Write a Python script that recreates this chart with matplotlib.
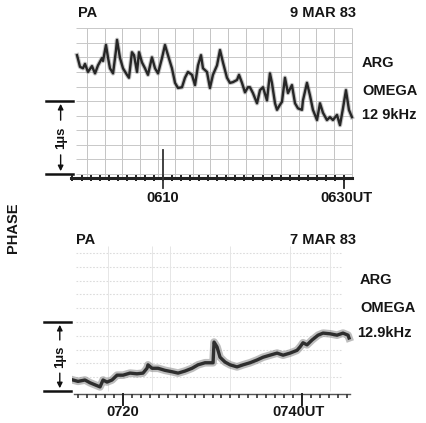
import numpy as np
import matplotlib
matplotlib.use("Agg")
from matplotlib import pyplot as plt
from matplotlib import transforms

# 9 MAR 83: minutes after 0600 UT, phase in microseconds
t_top = [0.50, 0.83, 1.16, 1.38, 1.71, 2.15, 2.49, 2.82, 3.26, 3.37, 3.70, 3.92, 4.14, 4.48,
         4.81, 4.92, 5.25, 5.58, 6.02, 6.24, 6.57, 6.80, 7.13, 7.35, 7.68, 8.01, 8.34, 8.78,
         9.12, 9.45, 9.89, 10.22, 10.55, 10.99, 11.33, 11.66, 12.10, 12.43, 12.76, 13.20,
         13.54, 13.87, 14.20, 14.42, 14.86, 15.19, 15.52, 15.97, 16.30, 16.63, 17.07, 17.40,
         17.73, 18.18, 18.40, 18.73, 19.06, 19.39, 19.61, 19.94, 20.39, 20.72, 21.05, 21.49,
         21.82, 22.04, 22.38, 22.60, 22.93, 23.15, 23.48, 23.81, 24.25, 24.59, 24.92, 25.36,
         25.47, 25.91, 26.24, 26.57, 27.02, 27.35, 27.68, 28.12, 28.45, 28.78, 29.23, 29.56,
         29.89, 30.22, 30.55, 30.88]
p_top = [1.63, 1.47, 1.45, 1.51, 1.40, 1.48, 1.38, 1.49, 1.59, 1.55, 1.77, 1.60, 1.45, 1.38,
         1.70, 1.84, 1.59, 1.45, 1.36, 1.32, 1.67, 1.63, 1.40, 1.67, 1.53, 1.45, 1.36, 1.60,
         1.45, 1.38, 1.59, 1.77, 1.63, 1.45, 1.25, 1.18, 1.19, 1.32, 1.40, 1.36,
         1.22, 1.49, 1.63, 1.45, 1.40, 1.18, 1.36, 1.49, 1.70, 1.53, 1.32, 1.25,
         1.26, 1.29, 1.36, 1.25, 1.12, 1.19, 1.19, 1.11, 0.97, 1.15, 1.19, 1.01,
         1.38, 1.25, 0.97, 0.88, 0.95, 0.99, 1.32, 1.11, 1.22, 0.97, 0.90, 0.88,
         1.01, 1.25, 1.08, 0.88, 0.74, 0.97, 0.84, 0.74, 0.78, 0.74, 0.81, 0.67,
         0.90, 1.15, 0.88, 0.78]

# 7 MAR 83: minutes after 0700 UT, phase in microseconds
t_bot = [14.41, 14.97, 15.75, 16.31, 16.87, 17.43, 17.77, 18.21, 18.77, 19.33, 20.00, 20.78,
         21.56, 22.23, 22.68, 22.79, 23.24, 23.91, 24.69, 25.47, 26.15, 26.93, 27.71, 28.38,
         29.16, 29.72, 30.06, 30.17, 30.50, 30.84, 31.40, 31.96, 32.74, 33.41, 34.19, 34.97,
         35.64, 36.42, 37.21, 37.88, 38.66, 39.44, 39.78, 40.11, 40.56, 41.12, 41.79, 42.35,
         43.13, 43.91, 44.58, 45.14, 45.25]
p_bot = [0.16, 0.14, 0.16, 0.12, 0.09, 0.06, 0.16, 0.13, 0.16, 0.23, 0.23, 0.26,
         0.25, 0.26, 0.33, 0.38, 0.33, 0.33, 0.30, 0.28, 0.26, 0.29, 0.33, 0.38,
         0.41, 0.41, 0.41, 0.71, 0.64, 0.49, 0.42, 0.38, 0.35, 0.38, 0.41, 0.45,
         0.49, 0.52, 0.55, 0.52, 0.55, 0.59, 0.64, 0.70, 0.67, 0.74, 0.81, 0.84,
         0.83, 0.81, 0.84, 0.81, 0.77]

top_labels = ["PA", "9 MAR 83", "ARG", "OMEGA", "12 9kHz", "0610", "0630UT"]
bot_labels = ["PA", "7 MAR 83", "ARG", "OMEGA", "12.9kHz", "0720", "0740UT"]
top_marks = [10, 30]
bot_marks = [20, 40]

W, H = 427, 423
plt.rcParams['font.family'] = ['Liberation Sans', 'DejaVu Sans']
fig = plt.figure(figsize=(W / 100, H / 100), dpi=100)


def rect(l, t, r, b):
    return [l / W, 1 - b / H, (r - l) / W, (b - t) / H]


def ftext(x, y, s, **kw):
    kw.setdefault('fontsize', 10.5)
    kw.setdefault('color', '#151515')
    kw.setdefault('fontweight', 'bold')
    fig.text(x / W, 1 - y / H, s, **kw)


ax1 = fig.add_axes(rect(72, 26, 356, 182))
ax1.set_xlim(-0.055, 31.33)
ax1.set_ylim(-0.11, 2.03)

ax2 = fig.add_axes(rect(72, 240, 356, 400))
ax2.set_xlim(14.30, 46.03)
ax2.set_ylim(-0.13, 2.19)

for ax in (ax1, ax2):
    ax.axis('off')

# chart paper grid, top record
ax1.vlines(np.arange(1.6, 31, 1.95), -0.05, 2.0, color='#c4c4c4', lw=0.7, zorder=1)
ax1.hlines(np.arange(0.0, 2.01, 0.2), 0.4, 30.9, color='#c8c8c8', lw=0.7, zorder=1)

# faint grid, bottom record
ax2.hlines(np.arange(0.2, 2.15, 0.2), 14.8, 44.5, color='#dcdcdc', lw=0.8,
           linestyles=(0, (1.5, 1.5)), zorder=1)
ax2.vlines([18.3, 23.2, 25.25, 32.0, 38.7, 43.1], 0.0, 2.1, color='#e6e6e6', lw=0.7, zorder=1)

# traces
ax1.plot(t_top, p_top, color='#888', lw=3.2, alpha=0.5, zorder=3, solid_joinstyle='round')
ax1.plot(t_top, p_top, color='#262626', lw=1.7, zorder=4, solid_joinstyle='round')
ax2.plot(t_bot, p_bot, color='#888', lw=5.5, alpha=0.55, zorder=3, solid_joinstyle='round')
ax2.plot(t_bot, p_bot, color='#2e2e2e', lw=2.4, zorder=4, solid_joinstyle='round')

# time baselines with minute ticks
mins1 = np.arange(0, 31)
ax1.plot([-0.2, 30.9], [-0.05, -0.05], color='#222', lw=2.2, zorder=5, clip_on=False)
ax1.plot(mins1, np.full(len(mins1), -0.05), ls='none', marker='|', ms=5, mew=1.4,
         color='#222', zorder=5, clip_on=False)
ax1.plot([top_marks[0]] * 2, [0.33, -0.19], color='#333', lw=1.3, zorder=5, clip_on=False)
ax1.plot([top_marks[1]] * 2, [-0.05, -0.19], color='#222', lw=1.3, zorder=5, clip_on=False)

mins2 = np.arange(15, 46)
ax2.plot([14.5, 45.4], [-0.04, -0.04], color='#555', lw=1.0, zorder=5, clip_on=False)
ax2.plot(mins2, np.full(len(mins2), -0.07), ls='none', marker='|', ms=3.5, mew=1.2,
         color='#333', zorder=5, clip_on=False)
for m in bot_marks:
    ax2.plot([m, m], [-0.04, -0.2], color='#222', lw=1.4, zorder=5, clip_on=False)


# 1 microsecond scale brackets
def bracket(ax, x0, x1, xc):
    tr = transforms.blended_transform_factory(ax.transAxes, ax.transData)
    for yv in (0, 1):
        ax.plot([x0, x1], [yv, yv], color='#111', lw=1.8, transform=tr, clip_on=False)
    ax.annotate('', xy=(xc, 1.0), xytext=(xc, 0.7), xycoords=tr, textcoords=tr,
                arrowprops=dict(arrowstyle='-|>', color='#111', lw=1.0, mutation_scale=8))
    ax.annotate('', xy=(xc, 0.0), xytext=(xc, 0.3), xycoords=tr, textcoords=tr,
                arrowprops=dict(arrowstyle='-|>', color='#111', lw=1.0, mutation_scale=8))
    ax.text(xc, 0.5, '1µs', transform=tr, rotation=90, ha='center', va='center',
            fontsize=9.5, color='#111', fontweight='bold')


bracket(ax1, -0.09, 0.005, -0.04)
bracket(ax2, -0.10, -0.005, -0.043)

# labels, top record
ftext(78, 13, top_labels[0], va='center')
ftext(290, 13, top_labels[1], va='center')
ftext(362, 63, top_labels[2], va='center')
ftext(362, 91, top_labels[3], va='center')
ftext(362, 115, top_labels[4], va='center')
ftext(163, 198, top_labels[5], ha='center', va='center')
ftext(320, 198, top_labels[6], va='center')

# labels, bottom record
ftext(76, 240, bot_labels[0], va='center')
ftext(290, 240, bot_labels[1], va='center')
ftext(360, 280, bot_labels[2], va='center')
ftext(360, 308, bot_labels[3], va='center')
ftext(357, 333, bot_labels[4], va='center')
ftext(123, 412, bot_labels[5], ha='center', va='center')
ftext(272, 412, bot_labels[6], va='center')

ftext(13, 228, 'PHASE', rotation=90, ha='center', va='center')

fig.savefig('out.png', dpi=100, facecolor='white')
